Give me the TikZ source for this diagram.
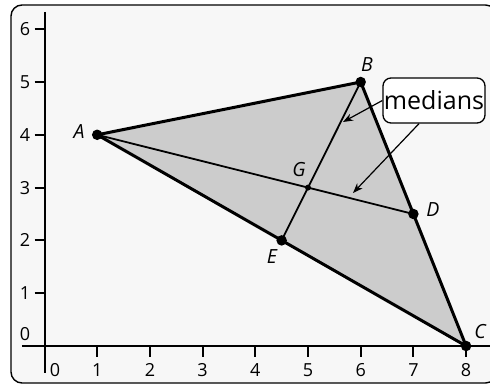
\documentclass[tikz,border=0pt]{standalone}
\usepackage{fontspec}
\setmainfont{Open Sans}
\usetikzlibrary{arrows.meta}
\tikzset{
  axisline/.style={line width=2pt,black},
  tick/.style={line width=2pt,black},
  ticklbl/.style={font=\fontsize{18}{18}\selectfont,inner sep=0pt},
  ptlbl/.style={font=\fontsize{19.5}{19.5}\selectfont\itshape,inner sep=0pt},
  side/.style={line width=3pt,black,line join=round},
  med/.style={line width=1.8pt,black},
  dot/.style={circle,fill=black,inner sep=0pt,minimum size=10.5pt},
  smalldot/.style={circle,fill=black,inner sep=0pt,minimum size=6pt},
  callout/.style={draw=black,line width=1.3pt,rounded corners=8pt,fill=white,minimum width=102pt,minimum height=45pt,inner sep=0pt,font=\fontsize{25}{25}\selectfont},
  pointer/.style={line width=1.2pt,-{Stealth[length=10pt,width=7.5pt]}}
}
\begin{document}
\begin{tikzpicture}[x=52.7pt,y=52.8pt]
\useasboundingbox (-44.5pt,-39pt) rectangle (445.5pt,346pt);
\fill[white] (-44.5pt,-39pt) rectangle (445.5pt,346pt);
\begin{scope}
\clip (-44.5pt,-39pt) rectangle (445.5pt,346pt);
\draw[line width=1.4pt,rounded corners=11pt,fill=black!3] (-33.5pt,-37pt) rectangle (452pt,341pt);
\end{scope}
% axes
\draw[axisline] (0pt,334pt) -- (0pt,-27pt);
\draw[axisline] (-22.5pt,0pt) -- (446pt,0pt);
\foreach \i in {1,...,6} {
  \draw[tick] (-10pt,\i) -- (0pt,\i);
  \node[ticklbl] (y\i) at (-19.5pt,\i) {\i};
}
\node[ticklbl] (y0) at (-19.5pt,12pt) {0};
\foreach \i in {1,...,8} {
  \draw[tick] (\i,0pt) -- (\i,-11pt);
  \node[ticklbl] (x\i) at ([yshift=-24pt]\i,0) {\i};
}
\node[ticklbl] (x0) at (10.5pt,-24pt) {0};
% points
\coordinate (A) at (1,4);
\coordinate (B) at (6,5);
\coordinate (C) at (8,0);
\coordinate (D) at (7,2.5);
\coordinate (E) at (4.5,2);
\coordinate (G) at (5,3);
\fill[black!20] (A) -- (B) -- (C) -- cycle;
\draw[med] (A) -- (D);
\draw[med] (B) -- (E);
\draw[side] (A) -- (B) -- (C) -- cycle;
\node[dot] (dA) at (A) {};
\node[dot] (dB) at (B) {};
\node[dot] (dC) at (C) {};
\node[dot] (dD) at (D) {};
\node[dot] (dE) at (E) {};
\node[smalldot] (dG) at (G) {};
\node[ptlbl] (lA) at (34.5pt,214pt) {A};
\node[ptlbl] (lB) at (322.5pt,281pt) {B};
\node[ptlbl] (lC) at (435.5pt,14pt) {C};
\node[ptlbl] (lD) at (388.5pt,136pt) {D};
\node[ptlbl] (lE) at (227.5pt,89pt) {E};
\node[ptlbl] (lG) at (254.5pt,176pt) {G};
% callout
\node[callout] (m) at (389.5pt,245.5pt) {medians};
\coordinate (t1) at (298.5pt,224pt);
\coordinate (t2) at (308.5pt,153pt);
\draw[pointer] (m.west) -- (t1);
\draw[pointer] ([xshift=-15pt]m.south) -- (t2);
\end{tikzpicture}
\end{document}
